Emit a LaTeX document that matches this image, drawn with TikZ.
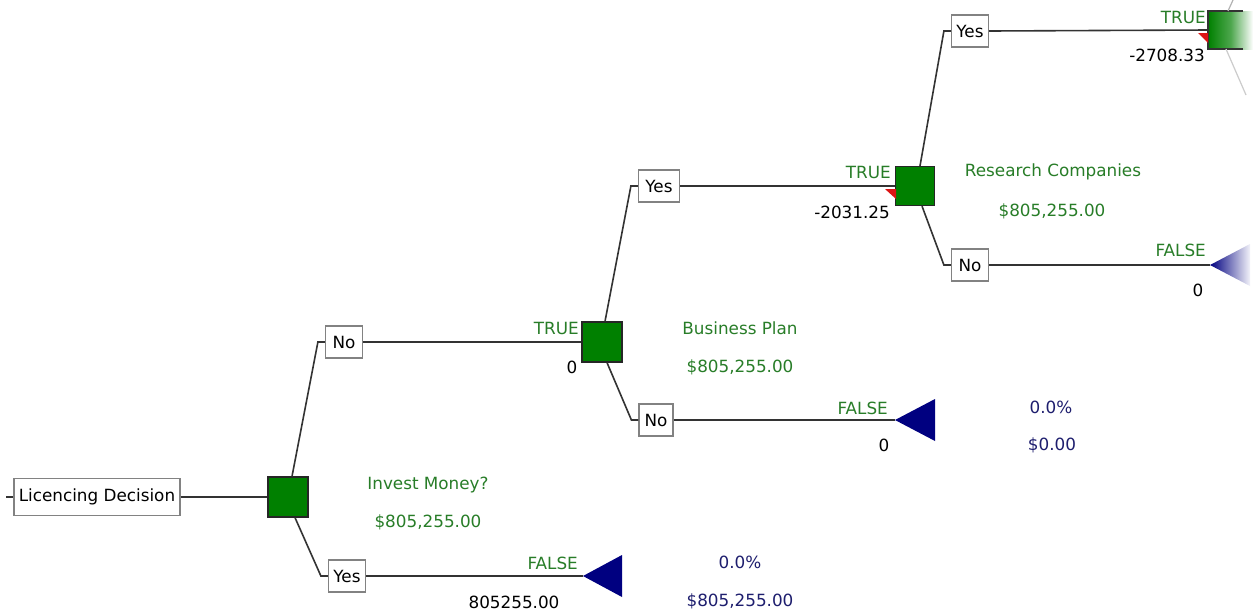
\documentclass[tikz,border=0pt]{standalone}
\usepackage{fontspec}
\setmainfont{DejaVu Sans}
\definecolor{dgreen}{RGB}{0,128,0}
\definecolor{tgreen}{RGB}{40,125,40}
\definecolor{navyb}{RGB}{0,0,128}
\definecolor{tblue}{RGB}{30,30,110}
\definecolor{boxgray}{RGB}{130,130,130}
\definecolor{flagred}{RGB}{220,20,20}
\begin{document}
\begin{tikzpicture}[x=1pt,y=-1pt,
 every node/.style={font=\fontsize{16.8}{19}\selectfont, inner sep=0pt},
 optbox/.style={draw=boxgray, fill=white, line width=1.2pt, minimum height=32pt, minimum width=37pt, text=black},
 decsq/.style={draw=black!85, fill=dgreen, line width=1.2pt, minimum size=40pt},
 glbl/.style={text=tgreen},
 blbl/.style={text=tblue},
 klbl/.style={text=black},
 conn/.style={draw=black!80, line width=1.6pt},
 chancetri/.style={fill=navyb},
 redflag/.style={fill=flagred}
]
\useasboundingbox (0,0) rectangle (1253,614);
\fill[white] (0,0) rectangle (1253,614);

% root
\coordinate (tick0) at (6,497);
\node[optbox, minimum width=166pt, minimum height=37pt] (ld) at (97,497) {Licencing Decision};
\node[decsq] (sq1) at (288,497) {};
\node[optbox] (no1) at (344,342) {No};
\node[optbox] (yes1) at (347,576) {Yes};

% second level
\node[decsq] (sq2) at (602,342) {};
\node[optbox, minimum width=41pt] (yes2) at (659,186) {Yes};
\node[optbox, minimum width=34pt] (no2) at (656,420) {No};
\coordinate (t1) at (895,420);
\coordinate (t3) at (583,576);

% third level
\node[decsq, minimum size=39pt] (sq3) at (915,186) {};
\node[optbox] (yes3) at (970,31) {Yes};
\node[optbox] (no3) at (970,265) {No};
\coordinate (t2) at (1210,265);
\coordinate (s4) at (1208,30);

% connectors
\draw[conn] (tick0) -- (ld.west);
\draw[conn] (ld.east) -- (sq1.west);
\draw[conn] ([xshift=4pt]sq1.north) -- ([xshift=-7pt]no1.west) -- (no1.west);
\draw[conn] ([xshift=7pt]sq1.south) -- ([xshift=-7pt]yes1.west) -- (yes1.west);
\draw[conn] (no1.east) -- (sq2.west);
\draw[conn] (yes1.east) -- (t3);
\draw[conn] ([xshift=3pt]sq2.north) -- ([xshift=-7pt]yes2.west) -- (yes2.west);
\draw[conn] ([xshift=5pt]sq2.south) -- ([xshift=-7pt]no2.west) -- (no2.west);
\draw[conn] (no2.east) -- (t1);
\draw[conn] (yes2.east) -- (sq3.west);
\draw[conn] ([xshift=5pt]sq3.north) -- ([xshift=-7pt]yes3.west) -- (yes3.west);
\draw[conn] ([xshift=7pt]sq3.south) -- ([xshift=-7pt]no3.west) -- (no3.west);
\draw[conn] (no3.east) -- (t2);
\draw[conn] (yes3.east) -- (s4);

% chance end triangles
\fill[chancetri] (t1) -- ++(40,-21) -- ++(0,42) -- cycle;
\fill[chancetri] (t3) -- ++(39,-21) -- ++(0,42) -- cycle;
\shade[left color=navyb, right color=navyb!5] (t2) -- ++(40,-21) -- ++(0,42) -- cycle;

% faded decision square at the right edge
\shade[left color=dgreen, right color=white, middle color=dgreen!70] (s4) ++(0,-19) rectangle ++(45,38);
\draw[black!80, line width=1.2pt] (1243,11) -- (1208,11) -- (1208,49) -- (1243,49);
\draw[black!30, line width=1.2pt] (1228,11) -- (1233,0);
\draw[black!20, line width=1.2pt] (1226,49) -- (1246,95);

% red flags
\fill[redflag] (885,189) -- (896,189) -- (896,199) -- cycle;
\fill[redflag] (1198,33) -- (1208,33) -- (1208,43) -- cycle;

% labels
\node[glbl] (im) at (428,485) {Invest Money?};
\node[glbl] (imv) at (428,522) {\$805,255.00};

\node[glbl, anchor=east] (tr2) at (579,328) {TRUE};
\node[klbl] (v2) at (572,367) {0};
\node[glbl] (bp) at (740,328) {Business Plan};
\node[glbl] (bpv) at (740,367) {\$805,255.00};

\node[glbl, anchor=east] (f1) at (888,408) {FALSE};
\node[klbl] (f1v) at (884,445) {0};
\node[blbl] (p1) at (1051,407) {0.0\%};
\node[blbl] (p1v) at (1052,445) {\$0.00};

\node[glbl, anchor=east] (tr3) at (891,172) {TRUE};
\node[klbl, anchor=east] (v3) at (890,212) {-2031.25};
\node[glbl] (rc) at (1053,172) {Research Companies};
\node[glbl] (rcv) at (1052,211) {\$805,255.00};

\node[glbl, anchor=east] (f2) at (1206,250) {FALSE};
\node[klbl] (f2v) at (1198,290) {0};

\node[glbl, anchor=east] (tr4) at (1206,17) {TRUE};
\node[klbl, anchor=east] (v4) at (1205,55) {-2708.33};

\node[glbl, anchor=east] (f3) at (578,563) {FALSE};
\node[klbl] (f3v) at (514,602) {805255.00};
\node[blbl] (p3) at (740,562) {0.0\%};
\node[blbl] (p3v) at (740,601) {\$805,255.00};
\end{tikzpicture}
\end{document}
